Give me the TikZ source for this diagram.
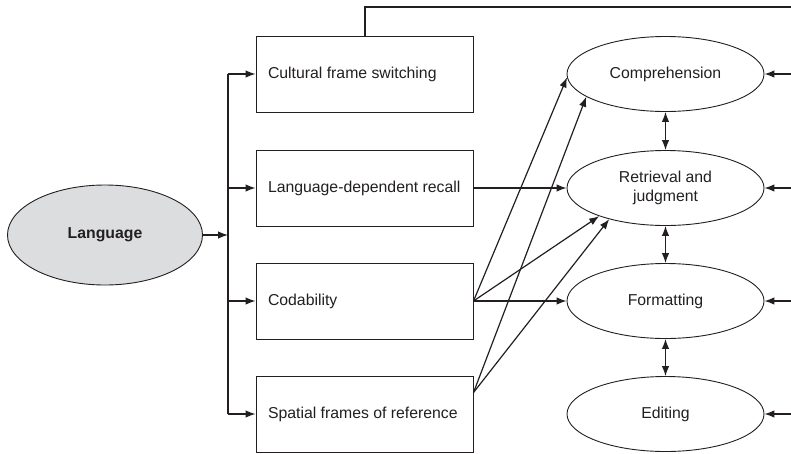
\documentclass[tikz,border=0pt]{standalone}
\usepackage{fontspec}
\setmainfont{Liberation Sans}
\usetikzlibrary{arrows.meta,calc,shapes.geometric}
\definecolor{langfill}{RGB}{220,221,223}
\definecolor{ink}{RGB}{35,31,32}
\newcommand{\boxtxt}[1]{\makebox[193pt][l]{#1}}
\begin{document}
\begin{tikzpicture}[x=1pt,y=-1pt,
  every node/.style={font=\fontsize{15.8}{18.5}\selectfont, text=ink},
  boxnode/.style={draw=ink, line width=1pt, minimum width=217pt, minimum height=76pt,
    inner xsep=12pt},
  procnode/.style={draw=ink, line width=0.9pt, ellipse, minimum width=197pt, minimum height=75pt,
    inner sep=0pt, align=center},
  arr/.style={draw=ink, line width=1.2pt, -{Latex[length=10pt,width=7.5pt]}},
  darr/.style={draw=ink, line width=1.2pt, {Latex[length=10pt,width=7.5pt]}-{Latex[length=10pt,width=7.5pt]}},
  plain/.style={draw=ink, line width=1.2pt}
]
\useasboundingbox (0,0) rectangle (791,453);

% Language
\node[draw=ink, line width=0.9pt, ellipse, fill=langfill, minimum width=195pt, minimum height=100pt, inner sep=0pt,
  font=\fontsize{15.8}{18.5}\selectfont\bfseries] (lang) at (105,235) {Language};

% Boxes
\node[boxnode] (b1) at (364.5,74) {\boxtxt{Cultural frame switching}};
\node[boxnode] (b2) at (364.5,188) {\boxtxt{Language-dependent recall}};
\node[boxnode] (b3) at (364.5,301) {\boxtxt{Codability}};
\node[boxnode] (b4) at (364.5,414) {\boxtxt{Spatial frames of reference}};

% Process ellipses
\node[procnode] (e1) at (665.5,74) {Comprehension};
\node[procnode] (e2) at (665.5,188) {Retrieval and\\judgment};
\node[procnode] (e3) at (665.5,301) {Formatting};
\node[procnode] (e4) at (665.5,414) {Editing};

% Bus
\coordinate (busL) at (228,235);
\coordinate (bus1) at (228,74);
\coordinate (bus2) at (228,188);
\coordinate (bus3) at (228,301);
\coordinate (bus4) at (228,414);
\draw[plain] (bus1) -- (bus4);
\draw[arr] (lang.east) -- (busL);
\draw[arr] (bus1) -- (b1.west);
\draw[arr] (bus2) -- (b2.west);
\draw[arr] (bus3) -- (b3.west);
\draw[arr] (bus4) -- (b4.west);

% Top feedback line
\coordinate (tl) at (365,7);
\coordinate (rtop) at (791,7);
\draw[plain] (b1.north -| tl) |- (rtop);

% Right inputs
\coordinate (r1) at (791,74);
\coordinate (r2) at (791,188);
\coordinate (r3) at (791,301);
\coordinate (r4) at (791,414);
\draw[arr] (r1) -- (e1.east);
\draw[arr] (r2) -- (e2.east);
\draw[arr] (r3) -- (e3.east);
\draw[arr] (r4) -- (e4.east);

% Between ellipses
\draw[darr] (e1.south) -- (e2.north);
\draw[darr] (e2.south) -- (e3.north);
\draw[darr] (e3.south) -- (e4.north);

% Box to ellipse links
\draw[arr] (b2.east) -- (e2.west);
\draw[arr] (b3.east) -- (e3.west);
\draw[arr] (b3.east) -- (e1.182);
\draw[arr] (b3.east) -- (e2.203);
\coordinate (s4) at ($(b4.north east)+(0,17)$);
\draw[arr] (s4) -- (e1.196);
\draw[arr] (s4) -- (e2.209);
\end{tikzpicture}
\end{document}
